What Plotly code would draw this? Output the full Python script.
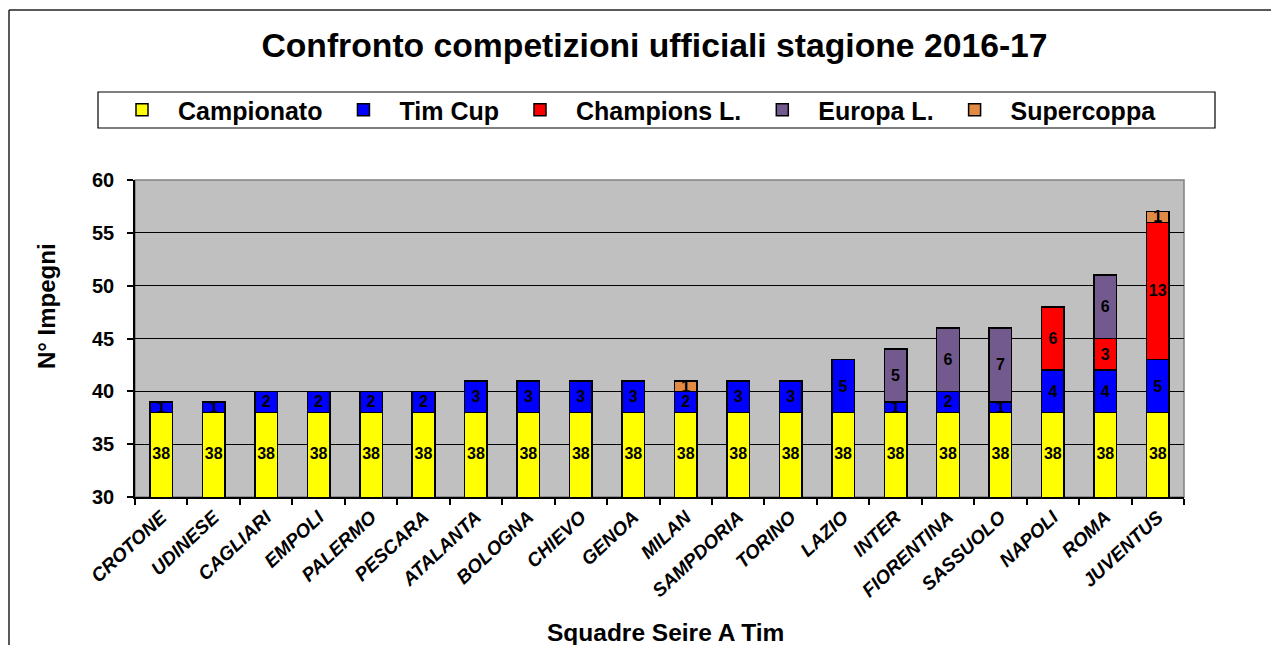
import plotly.graph_objects as go

teams = ["CROTONE", "UDINESE", "CAGLIARI", "EMPOLI", "PALERMO", "PESCARA", "ATALANTA",
         "BOLOGNA", "CHIEVO", "GENOA", "MILAN", "SAMPDORIA", "TORINO", "LAZIO", "INTER",
         "FIORENTINA", "SASSUOLO", "NAPOLI", "ROMA", "JUVENTUS"]
campionato = [38, 38, 38, 38, 38, 38, 38, 38, 38, 38, 38, 38, 38, 38, 38, 38, 38, 38, 38, 38]
tim_cup = [1, 1, 2, 2, 2, 2, 3, 3, 3, 3, 2, 3, 3, 5, 1, 2, 1, 4, 4, 5]
champions = [None, None, None, None, None, None, None, None, None, None, None, None, None,
             None, None, None, None, 6, 3, 13]
europa = [None, None, None, None, None, None, None, None, None, None, None, None, None,
          None, 5, 6, 7, None, 6, None]
supercoppa = [None, None, None, None, None, None, None, None, None, None, 1, None, None,
              None, None, None, None, None, None, 1]
y_range = [30, 60]

series = [
    ("Campionato", campionato, "#FFFF00"),
    ("Tim Cup", tim_cup, "#0000FF"),
    ("Champions L.", champions, "#FF0000"),
    ("Europa L.", europa, "#725A8E"),
    ("Supercoppa", supercoppa, "#E08A44"),
]

FONT = "Liberation Sans, Arial, sans-serif"
LABEL_FONT = dict(family=FONT, size=16, color="black", weight="bold")

fig = go.Figure()
for i, (name, vals, color) in enumerate(series):
    fig.add_trace(go.Bar(
        x=teams, y=vals, name=name,
        marker=dict(color=color, line=dict(color="black", width=1.5)),
        text=None if i == 0 else vals,
        textposition="inside", insidetextanchor="middle",
        textangle=0, constraintext="none",
        textfont=LABEL_FONT,
        hoverinfo="x+y+name",
    ))

# labels of the bottom (Campionato) segment: centred on its visible part above the axis minimum
fig.add_trace(go.Scatter(
    x=teams, y=[(y_range[0] + v) / 2 for v in campionato],
    text=[str(v) for v in campionato], mode="text",
    textfont=LABEL_FONT, showlegend=False, hoverinfo="skip", cliponaxis=False,
))

# The page body adds an 8 px offset; reference pixel positions are mapped with OFF.
OFF = 8
FW, FH = 1279 - 2 * OFF, 653 - 2 * OFF
L, R, T, B = 135 - OFF, 1184 - OFF, 180 - OFF, 497 - OFF
W, H = R - L, B - T
def px(x):
    return (x - OFF - L) / W
def py(y):
    return (B - (y - OFF)) / H

fig.update_layout(
    width=FW, height=FH,
    margin=dict(l=L, r=FW - R, t=T, b=FH - B, autoexpand=False),
    paper_bgcolor="white",
    plot_bgcolor="#C0C0C0",
    barmode="stack",
    bargap=0.57,
    font=dict(family=FONT, color="black"),
    title=dict(text="Confronto competizioni ufficiali stagione 2016-17",
               x=(654.5 - OFF) / FW, xanchor="center", xref="container",
               y=1 - (45 - OFF) / FH, yanchor="middle", yref="container",
               font=dict(family=FONT, size=33.7, color="black", weight="bold")),
    legend=dict(orientation="h", traceorder="normal",
                x=px(106), xanchor="left", y=py(110), yanchor="middle",
                bgcolor="rgba(0,0,0,0)", borderwidth=0,
                itemwidth=62,
                font=dict(family=FONT, size=25, color="black", weight="bold")),
    xaxis=dict(range=[-0.5, len(teams) - 0.5], showline=True, linecolor="black", linewidth=1.5,
               ticks="outside", ticklen=6, tickcolor="black", tickwidth=1.5,
               tickson="boundaries", tickangle=-43, automargin=False,
               tickfont=dict(family=FONT, size=19, color="black", weight="bold", style="italic"),
               showgrid=False),
    yaxis=dict(range=y_range, dtick=5, showline=True, linecolor="black", linewidth=1.5,
               ticks="outside", ticklen=6, tickcolor="black", tickwidth=1.5,
               ticklabelstandoff=9, automargin=False,
               showgrid=True, gridcolor="black", gridwidth=1,
               tickfont=dict(family=FONT, size=20, color="black", weight="bold")),
    showlegend=True,
)

frame_line = dict(color="#222222", width=1.5)
shapes = [
    # outer chart frame: left and top edges (right/bottom lie outside the visible area)
    dict(type="line", xref="paper", yref="paper", x0=px(OFF + 1), x1=px(OFF + 1),
         y0=py(FH + OFF), y1=py(10), line=frame_line, layer="above"),
    dict(type="line", xref="paper", yref="paper", x0=px(OFF + 1), x1=px(FW + OFF),
         y0=py(10), y1=py(10), line=frame_line, layer="above"),
    # legend box
    dict(type="rect", xref="paper", yref="paper", x0=px(98), x1=px(1215), y0=py(128), y1=py(92),
         line=dict(color="black", width=1.2), fillcolor="rgba(0,0,0,0)", layer="below"),
    # gray plot border
    dict(type="rect", xref="paper", yref="paper", x0=0, x1=1, y0=0, y1=1,
         line=dict(color="#808080", width=1.5), fillcolor="rgba(0,0,0,0)", layer="below"),
]
fig.update_layout(shapes=shapes)

fig.add_annotation(text="N° Impegni", xref="paper", yref="paper", x=px(46), y=py(306),
                   textangle=-90, showarrow=False, xanchor="center", yanchor="middle",
                   font=dict(family=FONT, size=24, color="black", weight="bold"))
fig.add_annotation(text="Squadre Seire A Tim", xref="paper", yref="paper", x=px(665), y=py(632),
                   showarrow=False, xanchor="center", yanchor="middle",
                   font=dict(family=FONT, size=24.5, color="black", weight="bold"))

fig.write_html("out.html")
